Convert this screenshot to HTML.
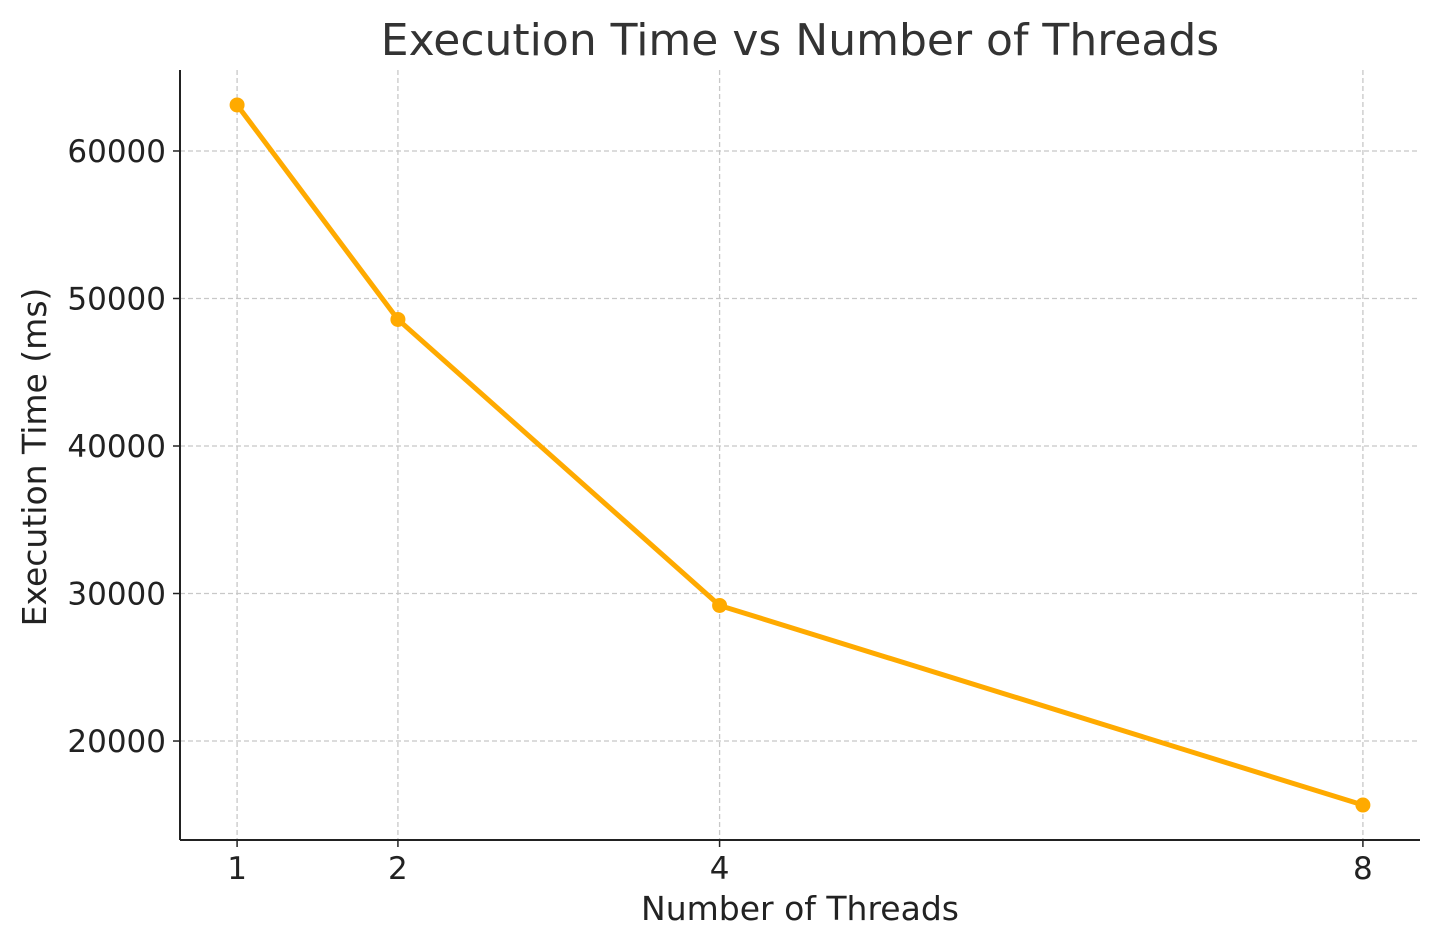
<!DOCTYPE html>
<html><head><meta charset="utf-8"><style>
body{margin:0;background:#fff;}
svg{display:block;font-family:"DejaVu Sans","Liberation Sans",sans-serif;}
</style></head><body>
<svg id="chart" width="1440" height="947">
<text x="800" y="55" font-size="44" fill="#333" text-anchor="middle">Execution Time vs Number of Threads</text>
<text x="800" y="920" font-size="33" fill="#222" text-anchor="middle">Number of Threads</text>
<text transform="translate(46,457) rotate(-90)" font-size="33" fill="#222" text-anchor="middle">Execution Time (ms)</text>
<g id="grid"></g><g id="axes"></g><g id="series"></g>
</svg>
<script>
const threads=[1,2,4,8];
const times=[63120,48580,29190,15660];
const xTicks=[1,2,4,8];
const yTicks=[20000,30000,40000,50000,60000];
const L=180,R=1420,T=70,B=840;
const xMin=0.645,xMax=8.355,yMin=13290,yMax=65490;
const sx=v=>L+(v-xMin)/(xMax-xMin)*(R-L);
const sy=v=>B-(v-yMin)/(yMax-yMin)*(B-T);
const NS="http://www.w3.org/2000/svg";
function mk(tag,attrs,parent){const e=document.createElementNS(NS,tag);for(const k in attrs)e.setAttribute(k,attrs[k]);document.getElementById(parent).appendChild(e);return e;}
xTicks.forEach(t=>{
 const g=mk('line',{x1:sx(t),x2:sx(t),y1:T,y2:B,stroke:'#c8c8c8','stroke-width':1.3,'stroke-dasharray':'5,3'},'grid');
 
 
 const tk=mk('line',{x1:sx(t),x2:sx(t),y1:B,y2:B+7,stroke:'#222','stroke-width':1.5},'axes');
 
 
 const lb=mk('text',{x:sx(t),y:B+39,'font-size':31,fill:'#222','text-anchor':'middle'},'axes');
 lb.textContent=t;
 
 
});
yTicks.forEach(t=>{
 const g=mk('line',{x1:L,x2:R,y1:sy(t),y2:sy(t),stroke:'#c8c8c8','stroke-width':1.3,'stroke-dasharray':'5,3'},'grid');
 
 
 const tk=mk('line',{x1:L-7,x2:L,y1:sy(t),y2:sy(t),stroke:'#222','stroke-width':1.5},'axes');
 
 
 const lb=mk('text',{x:L-14,y:sy(t)+11,'font-size':31,fill:'#222','text-anchor':'end'},'axes');
 lb.textContent=t;
 
 
});
const ya=mk('line',{x1:L,x2:L,y1:T,y2:B,stroke:'#222','stroke-width':2},'axes');


const xa=mk('line',{x1:L,x2:R,y1:B,y2:B,stroke:'#222','stroke-width':2},'axes');


const pts=threads.map((t,i)=>sx(t)+','+sy(times[i])).join(' ');
const pl=mk('polyline',{points:pts,fill:'none',stroke:'#FFAA00','stroke-width':5,'stroke-linejoin':'round'},'series');


threads.forEach((t,i)=>{
 const c=mk('circle',{cx:sx(t),cy:sy(times[i]),r:7.5,fill:'#FFAA00'},'series');
 
 
});
</script>
</body></html>
